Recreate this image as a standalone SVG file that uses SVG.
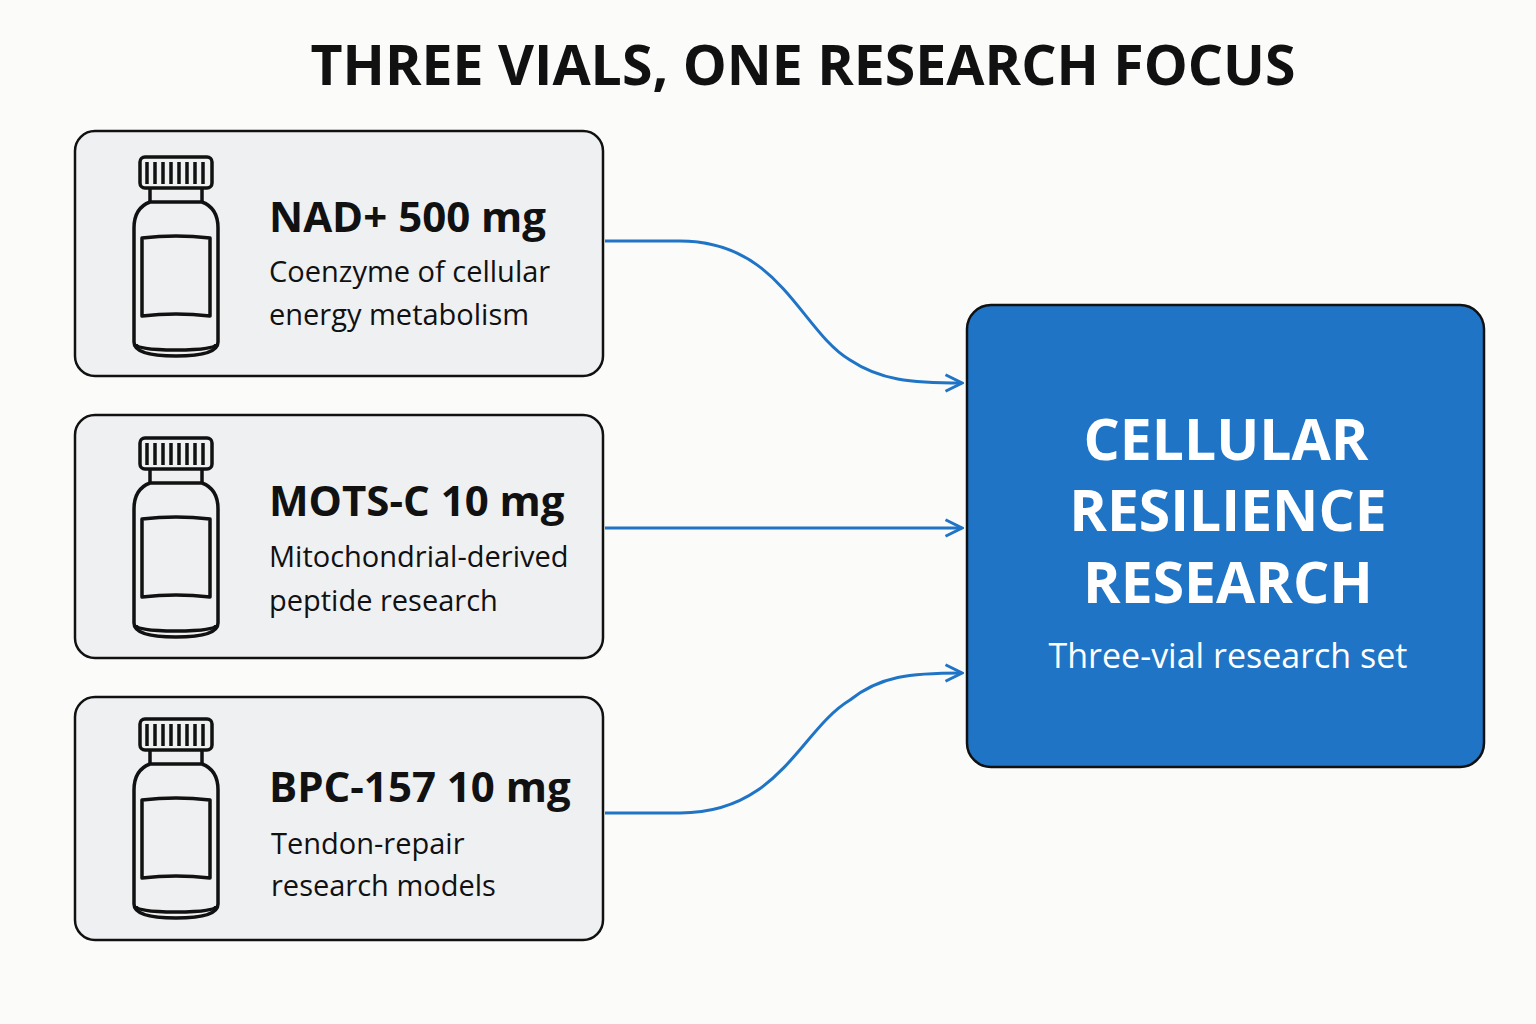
<svg xmlns="http://www.w3.org/2000/svg" width="1536" height="1024" viewBox="0 0 1536 1024">
<style>
.card{fill:#eff0f2;stroke:#111;stroke-width:2.5}
.t{font-family:"Open Sans","Noto Sans",sans-serif;font-weight:700;font-size:42px;fill:#111}
.s{font-family:"Open Sans","Noto Sans",sans-serif;font-size:29px;fill:#111}
.v{fill:none;stroke:#111;stroke-width:3.5;stroke-linejoin:round}
.c{fill:none;stroke:#1f74c6;stroke-width:3}
.w{font-family:"Open Sans","Noto Sans",sans-serif;font-weight:700;fill:#fff;text-anchor:middle;font-size:57px}
.ws{font-family:"Open Sans","Noto Sans",sans-serif;font-weight:400;fill:#fff;text-anchor:middle;font-size:34px}
</style>
<defs>
<marker id="a" viewBox="0 0 12 12" refX="11" refY="6" markerWidth="22" markerHeight="22" orient="auto" markerUnits="userSpaceOnUse">
<path d="M2 1.5 L11 6 L2 10.5" fill="none" stroke="#1f74c6" stroke-width="1.6"/>
</marker>
<g id="vial">
<rect class="v" x="140" y="157" width="72" height="31" rx="5"/>
<path class="v" d="M147 162v22M155 162v22M163 162v22M171 162v22M179 162v22M187 162v22M195 162v22M203 162v22" stroke-width="2"/>
<path class="v" d="M150 188v14M202 188v14"/>
<path class="v" d="M150 202 Q134 208 134 228 V342 Q134 356 176 356 Q218 356 218 342 V228 Q218 208 202 202 Z"/>
<path class="v" d="M136 344 Q136 350 176 350 Q216 350 216 344" stroke-width="2"/>
<path class="v" d="M142 238 Q176 234 210 238 V316 Q176 312 142 316 Z"/>
</g>
</defs>
<rect width="1536" height="1024" fill="#fbfbfa"/>
<text x="803" y="85" text-anchor="middle" font-family="'Open Sans','Noto Sans',sans-serif" font-weight="700" font-size="56" fill="#111" textLength="985" lengthAdjust="spacingAndGlyphs">THREE VIALS, ONE RESEARCH FOCUS</text>
<g id="nad">
<rect class="card" x="75" y="131" width="528" height="245" rx="20"/>
<use href="#vial"/>
<text class="t" x="269" y="232">NAD+ 500 mg</text>
<text class="s" x="269" y="282">Coenzyme of cellular</text>
<text class="s" x="269" y="325">energy metabolism</text>
</g>
<g id="mots">
<rect class="card" x="75" y="415" width="528" height="243" rx="20"/>
<use href="#vial" transform="translate(0,281)"/>
<text class="t" x="269" y="516">MOTS-C 10 mg</text>
<text class="s" x="269" y="567">Mitochondrial-derived</text>
<text class="s" x="269" y="611">peptide research</text>
</g>
<g id="bpc">
<rect class="card" x="75" y="697" width="528" height="243" rx="20"/>
<use href="#vial" transform="translate(0,562)"/>
<text class="t" x="269" y="802">BPC-157 10 mg</text>
<text class="s" x="271" y="854">Tendon-repair</text>
<text class="s" x="271" y="896">research models</text>
</g>
<g id="focus">
<rect x="967" y="305" width="517" height="462" rx="24" fill="#1f74c6" stroke="#111" stroke-width="2.5"/>
<text class="w" x="1226" y="460">CELLULAR</text>
<text class="w" x="1228" y="531">RESILIENCE</text>
<text class="w" x="1228" y="603">RESEARCH</text>
<text class="ws" x="1228" y="668">Three-vial research set</text>
</g>
<g id="connectors">
<path class="c" marker-end="url(#a)" d="M605 241 H680 C780 241 800 330 850 360 C880 380 910 383 962 383"/>
<path class="c" marker-end="url(#a)" d="M605 528 H962"/>
<path class="c" marker-end="url(#a)" d="M605 813 H680 C780 813 800 730 850 700 C880 676 910 673 962 673"/>
</g>
</svg>
